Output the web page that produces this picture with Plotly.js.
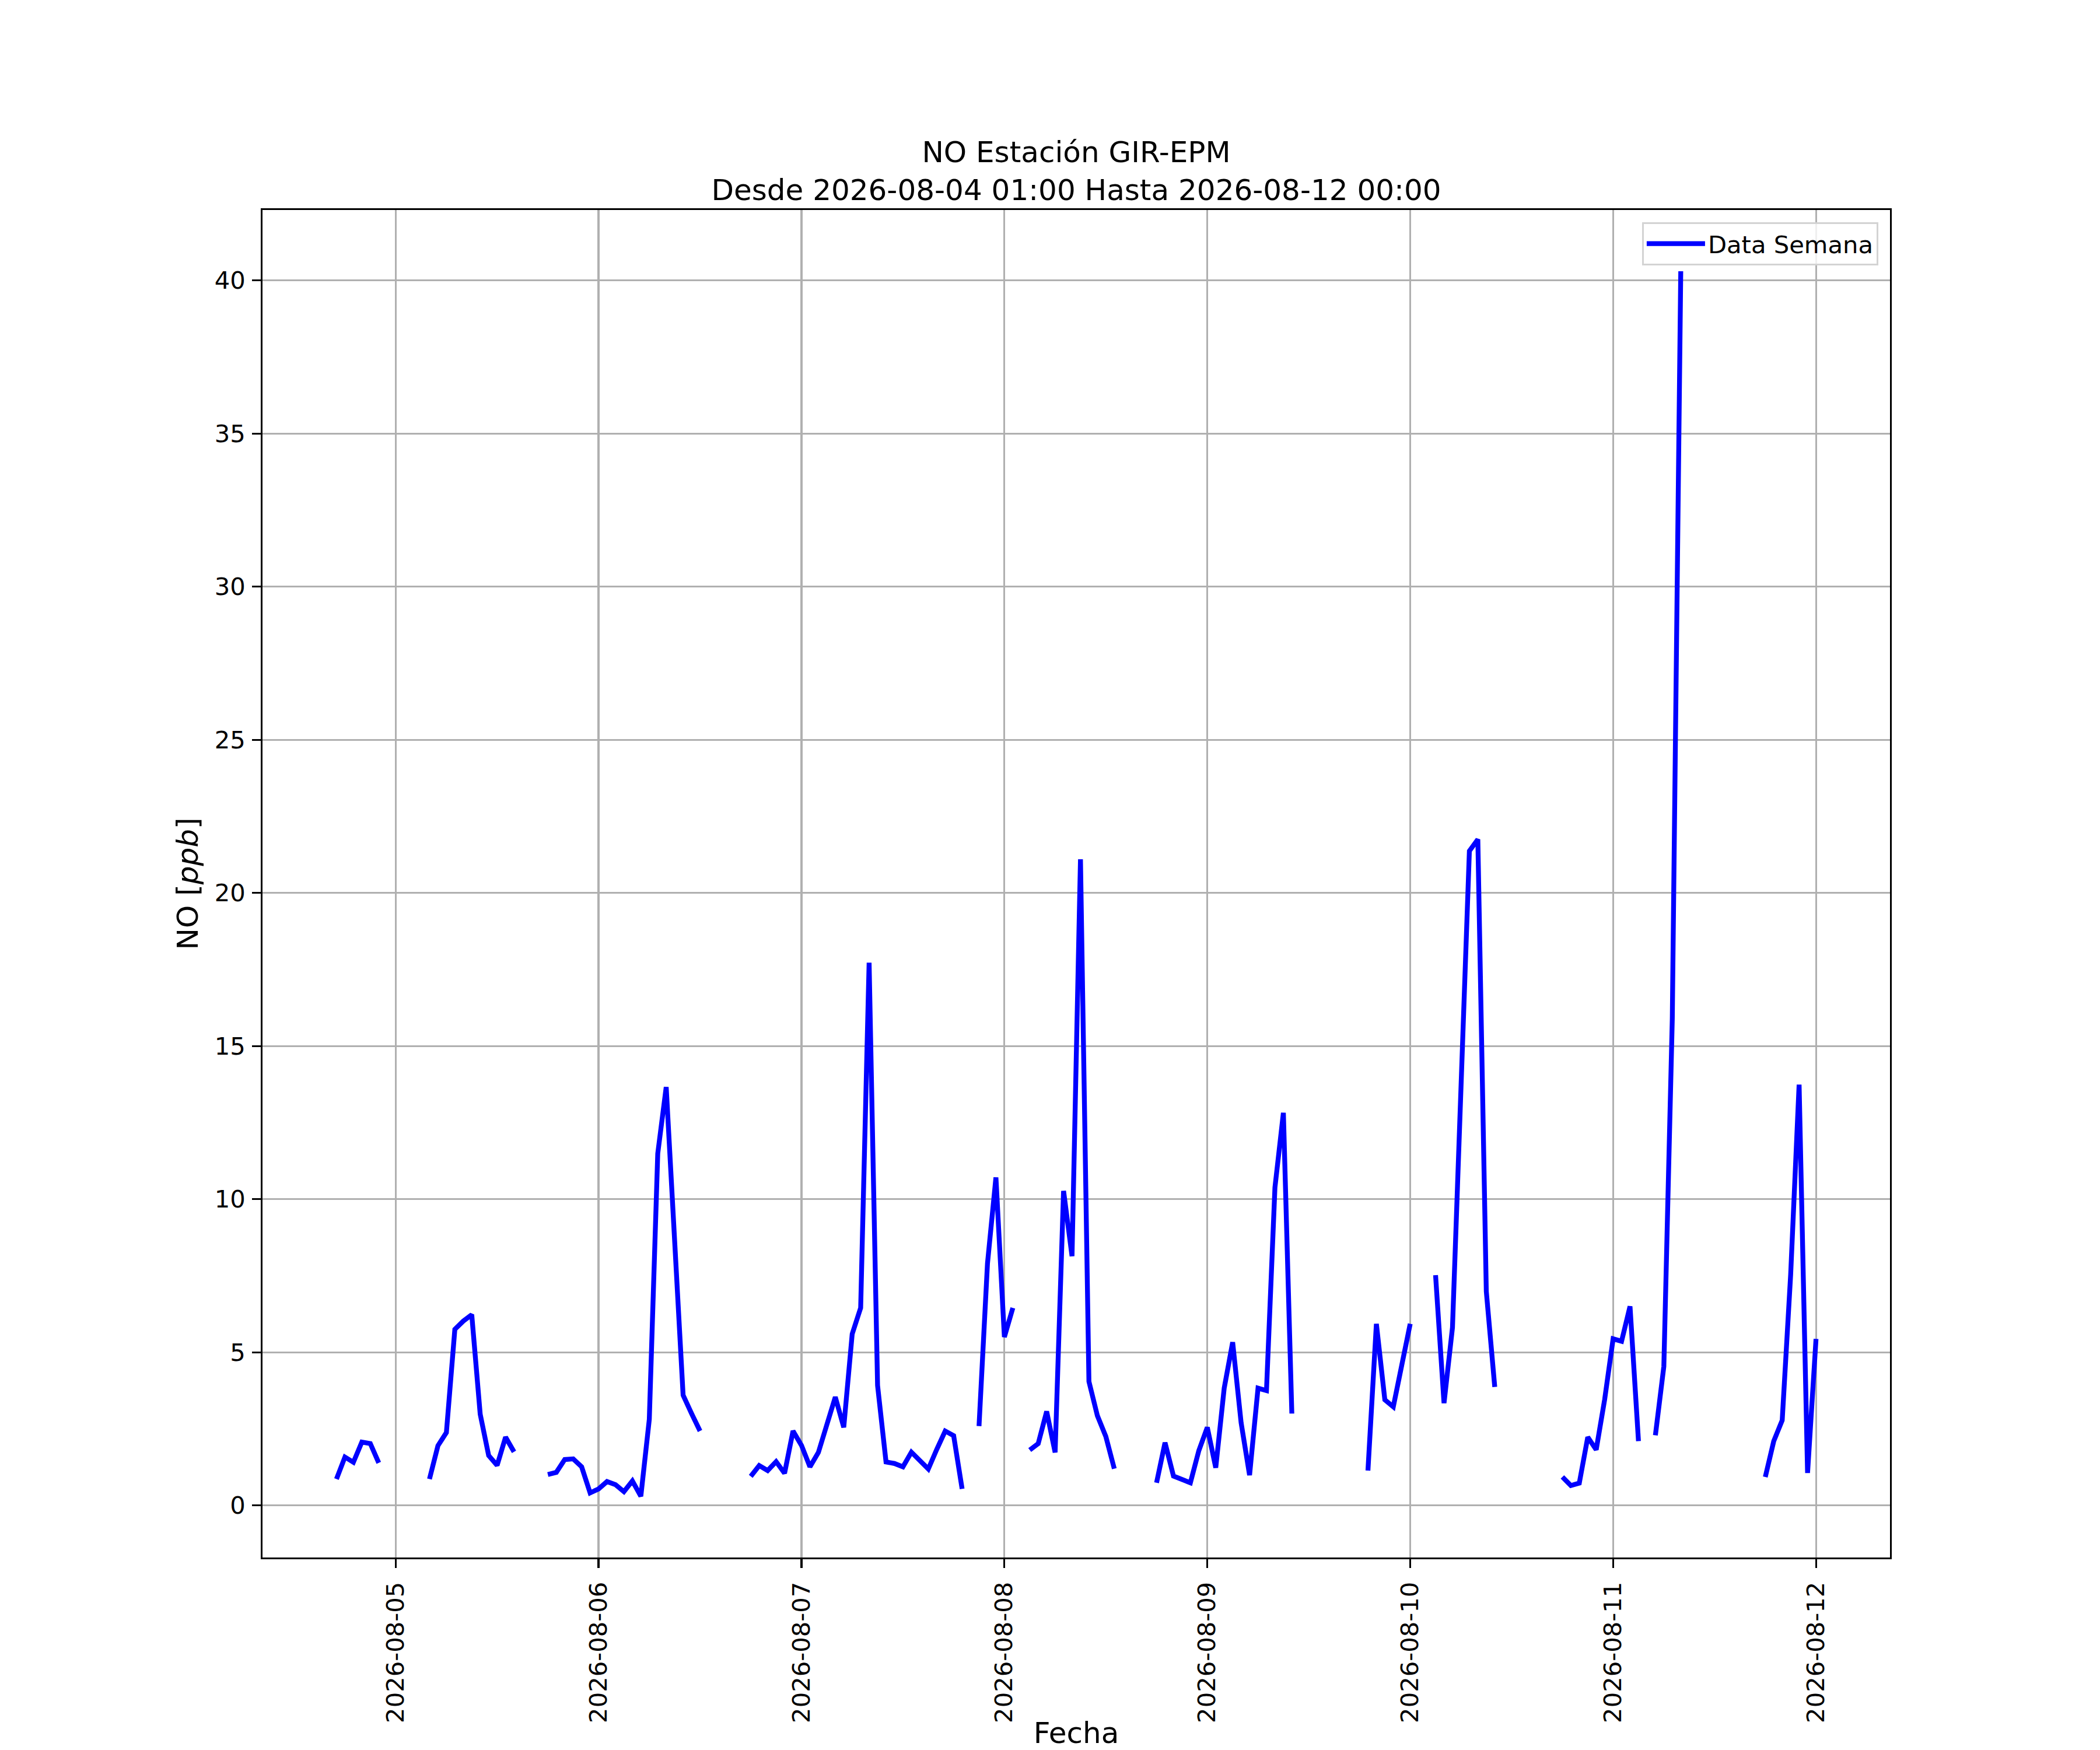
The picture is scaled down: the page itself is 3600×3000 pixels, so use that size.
<!DOCTYPE html>
<html>
<head>
<meta charset="utf-8">
<script src="https://cdn.plot.ly/plotly-3.0.1.min.js"></script>
<style>body{margin:0;padding:0;background:#fff;}</style>
</head>
<body>
<div id="chart" style="width:3600px;height:3000px;"></div>
<script>
// Hourly NO values [ppb]; null = missing hour (gap in the line)
// 2026-08-04, hours 01..23
const d0804 = [null,null,null,null,null,null,null,null,null,null,null,null,null,null,null,null,
               0.86,1.58,1.41,2.07,2.02,1.39,null];
// 2026-08-05, hours 00..23
const d0805 = [null,null,null,null,0.86,1.95,2.38,5.75,6.02,6.23,2.98,1.63,1.31,2.23,1.75,null,null,null,
               1.01,1.08,1.50,1.52,1.26,0.41];
// 2026-08-06
const d0806 = [0.54,0.78,0.68,0.45,0.80,0.30,2.81,11.49,13.66,8.60,3.60,3.00,2.43,null,null,null,null,null,
               0.95,1.30,1.14,1.43,1.05,2.43];
// 2026-08-07
const d0807 = [1.96,1.26,1.73,2.70,3.54,2.55,5.60,6.45,17.72,3.92,1.42,1.37,1.26,1.74,1.45,1.19,1.83,2.43,
               2.28,0.54,null,2.59,7.90,10.71];
// 2026-08-08
const d0808 = [5.50,6.45,null,1.81,2.02,3.07,1.73,10.27,8.14,21.10,4.05,2.93,2.25,1.20,null,null,null,null,
               0.74,2.05,0.96,0.86,0.74,1.79];
// 2026-08-09
const d0809 = [2.55,1.23,3.83,5.33,2.70,0.99,3.83,3.75,10.38,12.82,3.00,null,null,null,null,null,null,null,
               null,1.14,5.93,3.45,3.22,4.58];
// 2026-08-10
const d0810 = [5.93,null,null,7.52,3.34,5.81,13.60,21.37,21.75,6.99,3.87,null,null,null,null,null,null,null,
               0.93,0.65,0.73,2.23,1.82,3.46];
// 2026-08-11
const d0811 = [5.44,5.36,6.50,2.10,null,2.29,4.54,15.90,40.30,null,null,null,null,null,null,null,null,null,
               0.93,2.10,2.78,7.54,13.74,1.06];
// 2026-08-12, hour 00
const d0812 = [5.44];

const dayValues = [
  ['2026-08-04', 1, d0804],
  ['2026-08-05', 0, d0805],
  ['2026-08-06', 0, d0806],
  ['2026-08-07', 0, d0807],
  ['2026-08-08', 0, d0808],
  ['2026-08-09', 0, d0809],
  ['2026-08-10', 0, d0810],
  ['2026-08-11', 0, d0811],
  ['2026-08-12', 0, d0812]
];
const tickDates = ['2026-08-05','2026-08-06','2026-08-07','2026-08-08','2026-08-09','2026-08-10','2026-08-11','2026-08-12'];

const xs = [], ys = [];
dayValues.forEach(([day, h0, vals]) => {
  vals.forEach((v, i) => {
    const h = h0 + i;
    xs.push(day + ' ' + String(h).padStart(2,'0') + ':00');
    ys.push(v);
  });
});

const FONT = 'DejaVu Sans, Liberation Sans, sans-serif';
const LW = 3.33;

const trace = {
  x: xs, y: ys, type: 'scatter', mode: 'lines', name: 'Data Semana',
  connectgaps: false,
  line: {color: '#0000ff', width: 8.3}
};

const axisCommon = {
  showgrid: true, gridcolor: '#b0b0b0', gridwidth: LW,
  showline: true, linecolor: '#000', linewidth: LW, mirror: true,
  ticks: 'outside', ticklen: 14.6, tickwidth: LW, tickcolor: '#000',
  tickfont: {family: FONT, size: 41.7, color: '#000'},
  zeroline: false, automargin: false
};

const layout = {
  width: 3600, height: 3000,
  paper_bgcolor: '#fff', plot_bgcolor: '#fff',
  margin: {l: 450, r: 360, t: 360, b: 330, pad: 0},
  font: {family: FONT, color: '#000'},
  title: {
    text: 'NO Estación GIR-EPM<br>Desde 2026-08-04 01:00 Hasta 2026-08-12 00:00',
    font: {family: FONT, size: 50, color: '#000'},
    xref: 'paper', x: 0.5, xanchor: 'center',
    yref: 'paper', y: 1, yanchor: 'bottom', pad: {b: 82}
  },
  showlegend: true,
  legend: {
    x: 0.9928, xanchor: 'right', y: 0.9909, yanchor: 'top',
    bgcolor: 'rgba(255,255,255,0.8)', bordercolor: '#d3d3d3', borderwidth: 3,
    itemwidth: 100,
    font: {family: FONT, size: 41.7, color: '#000'}
  },
  xaxis: Object.assign({}, axisCommon, {
    type: 'date',
    range: ['2026-08-04 08:15', '2026-08-12 08:45'],
    tickmode: 'array', tickvals: tickDates, ticktext: tickDates,
    tickangle: -90,
    ticklabelstandoff: 7,
    title: {text: 'Fecha', font: {family: FONT, size: 50, color: '#000'}, standoff: 26}
  }),
  yaxis: Object.assign({}, axisCommon, {
    range: [-1.70, 42.3],
    tick0: 0, dtick: 5,
    ticklabelstandoff: 3,
    title: {text: 'NO [<i>ppb</i>]', font: {family: FONT, size: 50, color: '#000'}, standoff: 13}
  })
};

Plotly.newPlot('chart', [trace], layout, {displayModeBar: false, staticPlot: true});
</script>
</body>
</html>
